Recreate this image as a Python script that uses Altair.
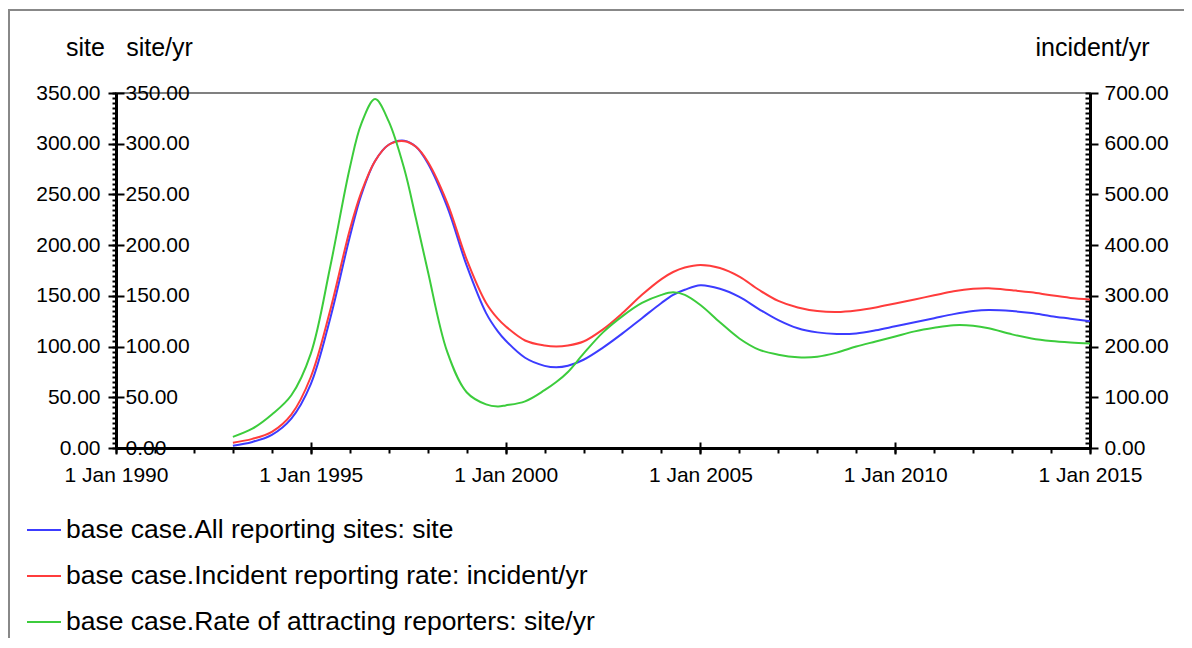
import altair as alt
import pandas as pd

years = [1993.0, 1993.5, 1994.0, 1994.5, 1995.0, 1995.5, 1996.0, 1996.3, 1996.65, 1997.0,
         1997.4, 1997.7, 1998.0, 1998.5, 1999.0, 1999.5, 1999.8, 2000.0, 2000.5, 2001.0,
         2001.3, 2001.6, 2002.0, 2002.5, 2003.0, 2003.5, 2004.0, 2004.3, 2004.6, 2005.0,
         2005.5, 2006.0, 2006.5, 2007.0, 2007.5, 2008.0, 2008.5, 2009.0, 2009.5, 2010.0,
         2010.5, 2011.0, 2011.5, 2012.0, 2012.4, 2013.0, 2013.5, 2014.0, 2014.5, 2015.0]

# All reporting sites (site)
sites = [2.3, 6, 13, 29, 63, 128, 208, 250, 283, 299,
         303, 297, 281, 238, 180, 133, 115, 106, 89, 81,
         79.5, 81, 87, 99, 113, 128, 143, 151, 156, 160.5,
         157, 149, 137, 126, 118, 114, 112.5, 113, 116, 120,
         124, 128, 132, 135, 136, 135, 133, 130, 127.5, 125]

# Incident reporting rate (incident/yr)
incident = [10.5, 18, 32, 66, 140, 272, 430, 505, 566, 598,
            605, 594, 565, 484, 372, 286, 255, 240, 212, 202,
            200, 202, 210, 234, 266, 302, 333, 347, 356, 361,
            355, 338, 312, 290, 277, 270, 268, 271, 277, 285,
            293, 301, 309, 314, 315, 311, 307, 301, 296, 293]

# Rate of attracting reporters (site/yr)
attract = [11, 19, 33, 52, 93, 179, 276, 320, 344, 322,
           275, 226, 175, 95, 55, 43, 41, 42, 46, 57,
           65, 75, 93, 114, 130, 143, 151, 153.5, 151, 141,
           124, 108, 97, 92, 89.5, 90, 94, 100, 105, 110,
           115, 118.5, 121, 120.5, 118, 112, 108, 105.5, 104, 103]

names = ["base case.All reporting sites: site",
         "base case.Incident reporting rate: incident/yr",
         "base case.Rate of attracting reporters: site/yr"]
colors = ["#3c3cff", "#ff3c3c", "#3ccc3c"]

x_major = [1990, 1995, 2000, 2005, 2010, 2015]
x_minor = list(range(1990, 2016))
left_major = list(range(0, 351, 50))
left_minor = list(range(0, 351, 5))
right_major = list(range(0, 701, 100))
right_minor = list(range(0, 701, 10))

n = len(years)
df = pd.DataFrame({
    "t": years * 3,
    "value": sites + incident + attract,
    "series": [names[0]] * n + [names[1]] * n + [names[2]] * n,
})

FONT = "Liberation Sans"
W, H = 974, 355

color = alt.Color(
    "series:N",
    scale=alt.Scale(domain=names, range=colors),
    legend=alt.Legend(
        title=None, orient="none", legendX=-90, legendY=419, direction="vertical",
        symbolType="stroke", symbolSize=1156, symbolStrokeWidth=2,
        labelFontSize=26.5, labelFont=FONT, labelColor="black", labelOffset=4,
        rowPadding=14, padding=0, labelLimit=0,
    ),
)

xscale = alt.Scale(domain=[1990, 2015], nice=False, zero=False)

x_main = alt.X("t:Q", scale=xscale, axis=alt.Axis(
    orient="bottom", values=x_major, labelExpr="'1 Jan ' + datum.value", tickSize=6,
    tickWidth=2, tickColor="black", domainColor="black", domainWidth=3,
    labelFontSize=21, labelFont=FONT, labelColor="black", labelPadding=10,
    labelFlush=False, labelOverlap=False, grid=False, title=None))
x_none = alt.X("t:Q", scale=xscale, axis=None)

title_common = dict(titleAngle=0, titleAlign="center", titleBaseline="alphabetic",
                    titleFontSize=25, titleFont=FONT, titleFontWeight="normal",
                    titleColor="black")
label_common = dict(labelFontSize=21, labelFont=FONT, labelColor="black",
                    labelFlush=False, labelOverlap=False, grid=False)

base = alt.Chart(df)

# minor ticks (left axis outside, bottom axis outside)
minor_left = base.transform_filter(alt.datum.series == names[0]).mark_line(opacity=0).encode(
    x=alt.X("t:Q", scale=xscale, axis=alt.Axis(
        orient="bottom", values=x_minor, labels=False, domain=False, tickSize=5,
        tickWidth=2, tickColor="black", grid=False, title=None)),
    y=alt.Y("value:Q", scale=alt.Scale(domain=[0, 350], nice=False), axis=alt.Axis(
        orient="left", values=left_minor, labels=False, domain=False, tickSize=4,
        tickWidth=2, tickColor="black", grid=False, title=None)),
)

# minor ticks (right axis inside, bottom major ticks inside)
minor_right = base.transform_filter(alt.datum.series == names[1]).mark_line(opacity=0).encode(
    x=alt.X("t:Q", scale=xscale, axis=alt.Axis(
        orient="bottom", offset=-6, values=x_major, labels=False, domain=False,
        tickSize=6, tickWidth=2, tickColor="black", grid=False, title=None)),
    y=alt.Y("value:Q", scale=alt.Scale(domain=[0, 700], nice=False), axis=alt.Axis(
        orient="right", offset=-5, values=right_minor, labels=False, domain=False,
        tickSize=5, tickWidth=2, tickColor="black", grid=False, title=None)),
)

blue = base.transform_filter(alt.datum.series == names[0]).mark_line(
    interpolate="catmull-rom", strokeWidth=2).encode(
    x=x_main,
    y=alt.Y("value:Q", scale=alt.Scale(domain=[0, 350], nice=False), axis=alt.Axis(
        orient="left", values=left_major, format=".2f", tickSize=8, tickWidth=2,
        tickColor="black", domainColor="black", domainWidth=3, labelPadding=8,
        title="site", titleX=-31, titleY=-38, **title_common, **label_common)),
    color=color,
)

red = base.transform_filter(alt.datum.series == names[1]).mark_line(
    interpolate="catmull-rom", strokeWidth=2).encode(
    x=x_none,
    y=alt.Y("value:Q", scale=alt.Scale(domain=[0, 700], nice=False), axis=alt.Axis(
        orient="right", values=right_major, format=".2f", tickSize=8, tickWidth=2,
        tickColor="black", domainColor="black", domainWidth=3, labelPadding=6,
        title="incident/yr", titleX=2, titleY=-38, **title_common, **label_common)),
    color=color,
)

green = base.transform_filter(alt.datum.series == names[2]).mark_line(
    interpolate="catmull-rom", strokeWidth=2).encode(
    x=x_none,
    y=alt.Y("value:Q", scale=alt.Scale(domain=[0, 350], nice=False), axis=alt.Axis(
        orient="left", offset=-8, values=left_major, format=".2f", tickSize=8,
        tickWidth=2, tickColor="black", domain=False, labelAlign="left",
        labelPadding=-9, title="site/yr", titleX=35, titleY=-38,
        **title_common, **label_common)),
    color=color,
)

frame = alt.Chart(pd.DataFrame({"k": [0]})).mark_rect(
    filled=False, stroke="#888888", strokeWidth=2).encode(
    x=alt.value(-107), x2=alt.value(3000), y=alt.value(-83), y2=alt.value(3000))

chart = alt.layer(frame, minor_left, minor_right, blue, red, green).resolve_scale(
    y="independent").resolve_axis(x="independent").properties(
    width=W, height=H,
    autosize=alt.AutoSizeParams(type="none"),
    padding={"left": 108, "top": 85, "right": 94, "bottom": 190},
    background="white",
).configure_view(stroke="#808080", strokeWidth=2)

chart.save("out.html", embed_options={"renderer": "svg", "actions": False})
